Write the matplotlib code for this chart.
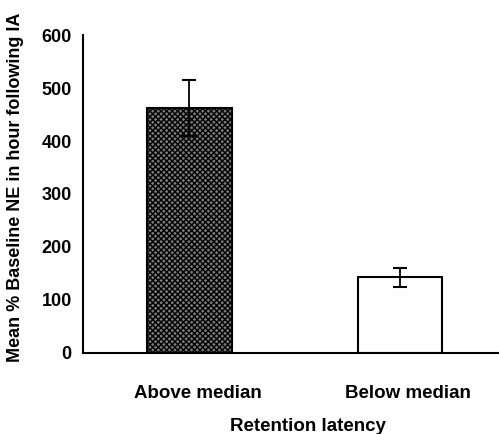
import matplotlib
matplotlib.use("Agg")
import matplotlib.pyplot as plt
import matplotlib.transforms as mtransforms

categories = ["Above median", "Below median"]
means = [462, 143]
errors = [53, 18]
y_ticks = [0, 100, 200, 300, 400, 500, 600]

plt.rcParams['font.family'] = ['Liberation Sans', 'DejaVu Sans']
plt.rcParams['font.weight'] = 'bold'
plt.rcParams['hatch.linewidth'] = 1.0

fig = plt.figure(figsize=(4.99, 4.34), dpi=100)
ax = fig.add_axes([0.166, 0.187, 0.834, 0.732])

x = list(range(len(categories)))
bars = ax.bar(x, means, width=0.4, color=['#7a7a7a', 'white'], edgecolor='black',
              linewidth=1.5, zorder=2)
bars[0].set_hatch('xxxxxx')
bars[0].set_edgecolor('black')
ax.errorbar(x, means, yerr=errors, fmt='none', ecolor='black', elinewidth=1.3,
            capsize=5, capthick=1.5, zorder=3)

ax.set_xlim(-0.506, 1.47)
ax.set_ylim(0, 600)
ax.set_yticks(y_ticks)
ax.set_yticklabels([str(v) for v in y_ticks], fontsize=13, fontweight='bold')
ax.set_xticks(x)
ax.set_xticklabels(categories, fontsize=13.5, fontweight='bold')
ax.tick_params(axis='y', length=0, pad=8)
ax.tick_params(axis='x', length=0, pad=23)
offset = mtransforms.ScaledTranslation(8/100, 0, fig.dpi_scale_trans)
for lbl in ax.get_xticklabels():
    lbl.set_transform(lbl.get_transform() + offset)

ax.spines['top'].set_visible(False)
ax.spines['right'].set_visible(False)
for s in ['left', 'bottom']:
    ax.spines[s].set_linewidth(1.5)

ax.set_ylabel("Mean % Baseline NE in hour following IA", fontsize=13, fontweight='bold')
ax.yaxis.set_label_coords(-0.142, 0.52)
ax.set_xlabel("Retention latency", fontsize=13.5, fontweight='bold')
ax.xaxis.set_label_coords(0.54, -0.204)

fig.savefig("out.png", dpi=100)
